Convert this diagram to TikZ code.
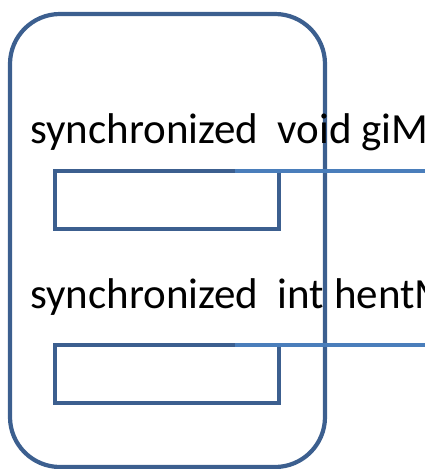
\documentclass[tikz,border=0pt]{standalone}
\usepackage{fontspec}
\setmainfont{Carlito}
\definecolor{frameblue}{HTML}{3C5F8F}
\definecolor{linkblue}{HTML}{4A7EBB}
\begin{document}
\begin{tikzpicture}[x=1pt,y=-1pt,
  frame/.style={draw=frameblue,line width=4.2pt},
  slot/.style={draw=frameblue,line width=4.2pt,rectangle,minimum width=224pt,minimum height=58pt,inner sep=0pt,outer sep=0pt},
  link/.style={draw=linkblue,line width=4.2pt},
  sig/.style={anchor=base west,inner sep=0pt,font=\fontsize{43}{48}\selectfont,text=black}]
\useasboundingbox (0,0) rectangle (425,469);
\begin{scope}
\clip (0,0) rectangle (425,469);
% outer object frame
\draw[frame,rounded corners=50pt] (10,14) rectangle (325,467);
% method signatures
\node[sig] (s1) at (30,143) {synchronized\ \ void giM};
\node[sig] (s2) at (30,308) {synchronized\ \ int hentM};
% lock boxes
\node[slot] (b1) at (167,200) {};
\node[slot] (b2) at (167,374) {};
% connectors leaving the frame
\coordinate (e1) at (430,171);
\coordinate (e2) at (430,345);
\draw[link] ([xshift=68pt]b1.north) -- (e1);
\draw[link] ([xshift=68pt]b2.north) -- (e2);
\end{scope}
\end{tikzpicture}
\end{document}
